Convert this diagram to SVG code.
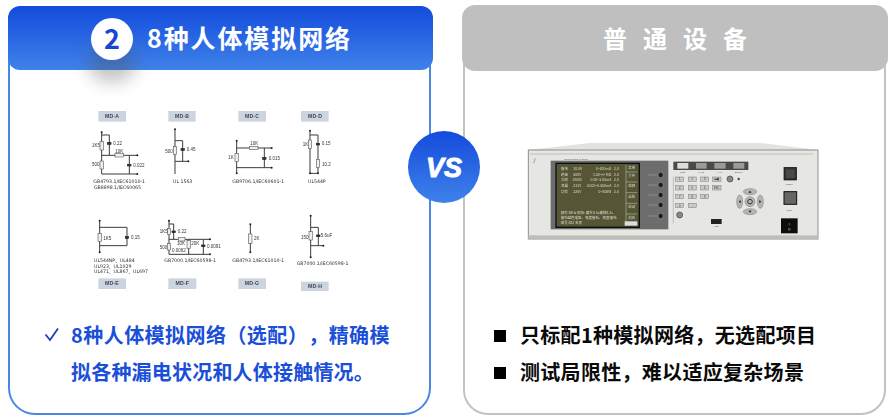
<svg xmlns="http://www.w3.org/2000/svg" width="894" height="420" viewBox="0 0 894 420">
<style>
.cjk{font-family:"Noto Sans CJK SC","Liberation Sans",sans-serif;font-weight:700;text-spacing-trim:space-all}
.hd{font-size:25px;fill:#fff}
.blue{font-size:20px;fill:#1a4fd8}
.blk{font-size:20px;fill:#0a0a0a}
.tag{fill:#ccd5df}
.tagt{font:700 15.500px "Liberation Sans",sans-serif;fill:#3c4652;text-anchor:middle;letter-spacing:.5px}
.w{fill:none;stroke:#3a3a3a;stroke-width:3}
.r{fill:#f3efe4;stroke:#555;stroke-width:1.800}
.cp{fill:#333;stroke:#222;stroke-width:2}
.d{fill:#222}
.l{font:13.500px "Liberation Sans",sans-serif;fill:#333}
.g{font:14px "DejaVu Sans","Noto Sans CJK SC",sans-serif;fill:#333}
.k{fill:#c9c9c5;stroke:#777;stroke-width:1.400}
.kt{font:8px "Liberation Sans",sans-serif;fill:#333;text-anchor:middle}
.it{font:6.500px "Liberation Sans",sans-serif;fill:#666;text-anchor:middle}
.st{font:10.500px "Noto Sans CJK SC","Liberation Sans",sans-serif;fill:#ddddd2}
.sr{text-anchor:end}
</style>
<defs>
<linearGradient id="gb" x1="0" y1="0" x2="0" y2="1"><stop offset="0" stop-color="#134bdc"/><stop offset="1" stop-color="#3f82ea"/></linearGradient>
<filter id="soft" x="-5%" y="-5%" width="110%" height="110%"><feGaussianBlur stdDeviation="1"/></filter>
<filter id="shadow" x="-80%" y="-80%" width="260%" height="260%"><feGaussianBlur stdDeviation="9"/></filter>
</defs>
<rect width="894" height="420" fill="#fff"/>

<g id="panel-left">
<rect x="9" y="8" width="421" height="406" rx="26" fill="#fff" stroke="#4a86e8" stroke-width="2"/>
<rect x="8" y="6" width="425" height="64" rx="12" fill="url(#gb)"/>
<ellipse cx="112" cy="62" rx="24" ry="20" fill="#555" opacity=".36" filter="url(#shadow)"/>
<circle cx="112" cy="39" r="21" fill="#fff"/>
<text x="112" y="49" class="cjk" font-size="27" fill="#1a45cc" text-anchor="middle">2</text>
<text x="147" y="48" class="cjk hd" letter-spacing="1.900">8种人体模拟网络</text>
</g>

<g id="panel-right">
<rect x="464" y="8" width="421" height="406" rx="24" fill="#fff" stroke="#c2c2c2" stroke-width="2"/>
<rect x="462" y="5" width="426" height="66" rx="13" fill="#bfbfbf"/>
<text x="603" y="48" class="cjk" font-size="24" fill="#fff" letter-spacing="16">普通设备</text>
</g>

<g id="vs-badge">
<circle cx="444" cy="167" r="36" fill="url(#gb)"/>
<text x="444" y="177" font-family="Liberation Sans,sans-serif" font-weight="700" font-style="italic" font-size="27" fill="#fff" stroke="#fff" stroke-width=".9" text-anchor="middle">VS</text>
</g>

<g id="md-top-left" transform="translate(80 100) scale(.33333)" filter="url(#soft)">
<g id="md-a">
<rect class="tag" x="55" y="33" width="83" height="32"/><text class="tagt" x="96" y="54">MD-A</text>
<path class="w" d="M65 95V222H172M65 105H88V166M65 166H172M148 166V222"/>
<rect class="r" x="60" y="125" width="10" height="25"/><rect class="r" x="60" y="183" width="10" height="24"/><rect class="r" x="105" y="161" width="26" height="10"/>
<rect class="cp" x="83" y="128" width="10" height="5"/><rect class="cp" x="143" y="193" width="10" height="5"/>
<circle class="d" cx="65" cy="97" r="3"/><circle class="d" cx="172" cy="166" r="3"/><circle class="d" cx="172" cy="222" r="3"/>
<text class="l" x="36" y="141">1K5</text><text class="l" x="100" y="134">0.22</text><text class="l" x="106" y="158">10K</text><text class="l" x="36" y="198">500</text><text class="l" x="160" y="200">0.022</text>
<text class="g" x="40" y="250">GB4793.1/IEC61010-1</text><text class="g" x="42" y="267">GB8898.1/IEC60065</text>
</g>
<g id="md-b">
<rect class="tag" x="265" y="33" width="82" height="32"/><text class="tagt" x="306" y="54">MD-B</text>
<path class="w" d="M285 88V222M285 122H308V184M285 184H325"/>
<rect class="r" x="280" y="140" width="10" height="23"/><rect class="cp" x="303" y="146" width="10" height="5"/>
<circle class="d" cx="285" cy="88" r="3"/><circle class="d" cx="325" cy="184" r="3"/>
<text class="l" x="256" y="159">500</text><text class="l" x="320" y="153">0.45</text><text class="g" x="279" y="248">UL 1563</text>
</g>
</g>

<g id="md-top-right" transform="translate(220 100) scale(.33333)" filter="url(#soft)">
<g id="md-c">
<rect class="tag" x="55" y="33" width="83" height="32"/><text class="tagt" x="96" y="54">MD-C</text>
<path class="w" d="M50 122V220M50 144H155M133 144V203M50 203H155"/>
<rect class="r" x="45" y="160" width="10" height="25"/><rect class="r" x="88" y="139" width="26" height="10"/><rect class="cp" x="128" y="173" width="10" height="5"/>
<circle class="d" cx="50" cy="122" r="3"/><circle class="d" cx="50" cy="220" r="3"/><circle class="d" cx="155" cy="144" r="3"/><circle class="d" cx="155" cy="203" r="3"/>
<text class="l" x="25" y="177">1K</text><text class="l" x="91" y="135">10K</text><text class="l" x="146" y="179">0.015</text><text class="g" x="37" y="249">GB9706.1/IEC60601-1</text>
</g>
<g id="md-d">
<rect class="tag" x="243" y="33" width="83" height="32"/><text class="tagt" x="285" y="54">MD-D</text>
<path class="w" d="M270 92V220H294V105H270"/>
<rect class="r" x="265" y="120" width="10" height="25"/><rect class="r" x="289" y="178" width="10" height="25"/><rect class="cp" x="289" y="130" width="10" height="5"/>
<circle class="d" cx="270" cy="92" r="3"/><circle class="d" cx="270" cy="220" r="3"/><circle class="d" cx="294" cy="220" r="3"/>
<text class="l" x="248" y="139">1K</text><text class="l" x="305" y="136">0.15</text><text class="l" x="306" y="197">10.2</text><text class="g" x="264" y="248">UL544P</text>
</g>
</g>

<g id="md-bottom-left" transform="translate(80 200) scale(.33333)" filter="url(#soft)">
<g id="md-e">
<rect class="tag" x="55" y="235" width="83" height="32"/><text class="tagt" x="96" y="256">MD-E</text>
<path class="w" d="M59 62V157M59 82H141V137H59"/>
<rect class="r" x="54" y="100" width="10" height="25"/><rect class="cp" x="136" y="110" width="10" height="5"/>
<circle class="d" cx="59" cy="62" r="3"/><circle class="d" cx="59" cy="157" r="3"/>
<text class="l" x="70" y="119">1K5</text><text class="l" x="153" y="117">0.15</text>
<text class="g" x="42" y="185">UL544NP、UL484</text><text class="g" x="42" y="203">UL923、UL1029</text><text class="g" x="42" y="220" font-size="13">UL471、UL867、UL697</text>
</g>
<g id="md-f">
<rect class="tag" x="265" y="235" width="84" height="32"/><text class="tagt" x="307" y="256">MD-F</text>
<path class="w" d="M267 62V163H390M267 72H281V118M267 118H390M326 118V163M370 118V163"/>
<rect class="r" x="262" y="85" width="10" height="19"/><rect class="r" x="262" y="130" width="10" height="20"/><rect class="r" x="295" y="113" width="20" height="10"/><rect class="r" x="321" y="122" width="10" height="24"/>
<rect class="cp" x="276" y="93" width="10" height="5"/><rect class="cp" x="365" y="135" width="10" height="5"/>
<circle class="d" cx="267" cy="62" r="3"/><circle class="d" cx="390" cy="118" r="3"/><circle class="d" cx="390" cy="163" r="3"/>
<text class="l" x="239" y="99">1K5</text><text class="l" x="293" y="100">0.22</text><text class="l" x="291" y="135">10K</text><text class="l" x="239" y="147">500</text><text class="l" x="334" y="136">20K</text><text class="l" x="276" y="155">0.0062</text><text class="l" x="381" y="143">0.0091</text>
<text class="g" x="253" y="185">GB7000.1/IEC60598-1</text>
</g>
</g>

<g id="md-bottom-right" transform="translate(220 200) scale(.33333)" filter="url(#soft)">
<g id="md-g">
<rect class="tag" x="55" y="235" width="83" height="32"/><text class="tagt" x="96" y="256">MD-G</text>
<path class="w" d="M91 73V157"/>
<rect class="r" x="86" y="102" width="10" height="28"/>
<circle class="d" cx="91" cy="73" r="3"/><circle class="d" cx="91" cy="157" r="3"/>
<text class="l" x="102" y="121">2K</text><text class="g" x="37" y="187">GB4793.1/IEC61010-1</text>
</g>
<g id="md-h">
<rect class="tag" x="243" y="245" width="83" height="28"/><text class="tagt" x="285" y="264">MD-H</text>
<path class="w" d="M272 47V172M272 82H295V137H310M272 137H295"/>
<rect class="r" x="267" y="95" width="10" height="25"/><rect class="cp" x="290" y="105" width="10" height="5"/>
<circle class="d" cx="272" cy="47" r="3"/><circle class="d" cx="272" cy="172" r="3"/><circle class="d" cx="310" cy="137" r="3"/>
<text class="l" x="243" y="116">150</text><text class="l" x="302" y="111">5.6uF</text><text class="g" x="230" y="196">GB7000.1/IEC60598-1</text>
</g>
</g>

<g id="instrument" filter="url(#soft)" transform="translate(520 140) scale(.33333)">
<path d="M25 30L210 9H720L894 30Z" fill="#e2e2e0"/>
<rect x="25" y="30" width="869" height="267" fill="#e6e6e3" stroke="#8f8f8f" stroke-width="3"/>
<rect x="25" y="286" width="869" height="10" fill="#bdbdb9"/>
<path d="M30 42H880" stroke="#aaa" stroke-width="2"/>
<path d="M46 55L41 70" stroke="#777" stroke-width="2"/>
<text class="it" x="168" y="59">INSTRUMENT  SYSTEM</text>
<rect x="92" y="62" width="353" height="206" fill="#6d6d6d"/>
<rect x="108" y="70" width="250" height="192" fill="#565636" stroke="#111" stroke-width="4"/>
<g id="screen">
<text class="st" x="123" y="90">接地</text><text class="st" x="160" y="90">10.0A</text><text class="st sr" x="274" y="90">0~200mΩ</text><text class="st" x="282" y="90">2.0</text>
<text class="st" x="123" y="107">绝缘</text><text class="st" x="160" y="107">500V</text><text class="st sr" x="274" y="107">1.00~∞ MΩ</text><text class="st" x="282" y="107">2.0</text>
<text class="st" x="123" y="124">交耐</text><text class="st" x="157" y="124">1800V</text><text class="st sr" x="274" y="124">0.00~3.00mA</text><text class="st" x="282" y="124">2.0</text>
<text class="st" x="123" y="141">泄漏</text><text class="st" x="160" y="141">233V</text><text class="st sr" x="274" y="141">0.000~0.500mA</text><text class="st" x="282" y="141">2.0</text>
<text class="st" x="123" y="158">功率</text><text class="st" x="160" y="158">220V</text><text class="st sr" x="274" y="158">0~500W</text><text class="st" x="282" y="158">2.0</text>
<text class="st" x="122" y="221">频率 50Hz 耐压: 缓升0.5s缓降0.2s</text>
<text class="st" x="122" y="236">接地蓝色电阻、亮度接低、亮度接地</text>
<text class="st" x="122" y="252">编号 002 名称</text>
<path d="M318 74V258M318 96H352M318 126H352M318 158H352M318 190H352M318 222H352" stroke="#ccc" stroke-width="1.500" fill="none"/>
<text class="st" x="325" y="88">菜单</text><text class="st" x="325" y="112">文件</text><text class="st" x="325" y="141">编辑</text><text class="st" x="325" y="173">自检</text><text class="st" x="325" y="204">启动</text><text class="st" x="325" y="236">消名</text>
<rect x="314" y="244" width="38" height="13" fill="#ddd"/>
</g>
<g fill="#1c1c1c" stroke="#999" stroke-width="2">
<circle cx="422" cy="105" r="8"/><circle cx="422" cy="135" r="8"/><circle cx="422" cy="165" r="8"/><circle cx="422" cy="195" r="8"/><circle cx="422" cy="228" r="8"/>
</g>
<path d="M385 105H412M385 135H412M385 165H412M385 195H412M385 228H412" stroke="#999" stroke-width="2"/>
<g transform="translate(450 0)">
<rect x="10" y="65" width="225" height="25" fill="#4a4a4a"/>
<rect x="22" y="69" width="33" height="17" fill="#ddd"/><rect x="78" y="69" width="32" height="17" fill="#9a9a9a"/><rect x="133" y="69" width="34" height="17" fill="#9a9a9a"/><rect x="190" y="69" width="33" height="17" fill="#9a9a9a"/>
<text class="it" x="38" y="100">TEST</text><text class="it" x="94" y="100">PASS</text><text class="it" x="150" y="100">FAIL</text><text class="it" x="206" y="100">ERROR</text>
<path d="M10 110V250" stroke="#aaa" stroke-width="2"/>
<rect class="k" x="17" y="111" width="24" height="13"/><rect class="k" x="55" y="111" width="24" height="13"/><rect class="k" x="92" y="111" width="24" height="13"/><rect class="k" x="127" y="111" width="26" height="13"/>
<rect class="k" x="17" y="137" width="24" height="13"/><rect class="k" x="55" y="137" width="24" height="13"/><rect class="k" x="92" y="137" width="24" height="13"/><rect class="k" x="127" y="137" width="26" height="13"/>
<rect class="k" x="17" y="163" width="24" height="13"/><rect class="k" x="55" y="163" width="24" height="13"/><rect class="k" x="92" y="163" width="24" height="13"/>
<rect class="k" x="17" y="190" width="24" height="13"/><rect class="k" x="55" y="190" width="24" height="13"/>
<text class="kt" x="29" y="121">1</text><text class="kt" x="67" y="121">2</text><text class="kt" x="104" y="121">3</text>
<text class="kt" x="29" y="147">4</text><text class="kt" x="67" y="147">5</text><text class="kt" x="104" y="147">6</text><text class="kt" x="140" y="147">ESC</text>
<text class="kt" x="29" y="173">7</text><text class="kt" x="67" y="173">8</text><text class="kt" x="104" y="173">9</text>
<text class="kt" x="29" y="200">0</text><text class="kt" x="67" y="200">.</text>
<circle cx="180" cy="117" r="9" fill="#888" stroke="#444" stroke-width="2"/><circle cx="206" cy="117" r="3.500" fill="#444"/><circle cx="29" cy="225" r="9" fill="#888" stroke="#444" stroke-width="2"/>
<path d="M134 114V121M134 117.500L146 114V121Z" fill="#333" stroke="#333" stroke-width="1"/>
<rect x="123" y="237" width="32" height="15" fill="#222"/><text class="it" x="139" y="262">USB</text>
<g fill="#b5b5b1" stroke="#777" stroke-width="1.500">
<ellipse cx="240" cy="155" rx="20" ry="9"/><ellipse cx="240" cy="215" rx="20" ry="9"/><ellipse cx="209" cy="185" rx="9" ry="20"/><ellipse cx="271" cy="185" rx="9" ry="20"/>
<circle cx="240" cy="185" r="15"/>
</g>
<circle cx="240" cy="185" r="7" fill="none" stroke="#333" stroke-width="3"/>
<path d="M235 158L240 152L245 158ZM235 212L240 218L245 212ZM212 180L206 185L212 190ZM268 180L274 185L268 190Z" fill="#222"/>
<rect x="342" y="82" width="38" height="38" fill="#333" stroke="#111" stroke-width="2"/><rect x="348" y="88" width="26" height="26" fill="#4a4a4a"/><text class="it" x="358" y="136">RESET</text>
<rect x="342" y="155" width="38" height="38" fill="#666" stroke="#111" stroke-width="3"/><text class="it" x="358" y="212">TEST</text>
<rect x="333" y="235" width="50" height="45" fill="#111"/><path d="M358 249V256" stroke="#bbb" stroke-width="1.500"/><circle cx="358" cy="268" r="3" fill="none" stroke="#bbb" stroke-width="1.500"/>
</g>
</g>

<g id="bullets-left">
<path d="M45.500 334.500L50 340L58 328.500" fill="none" stroke="#1a3fc0" stroke-width="1.800"/>
<text class="cjk blue" x="71" y="343" letter-spacing=".45">8种人体模拟网络（选配），精确模</text>
<text class="cjk blue" x="71" y="380" letter-spacing=".2">拟各种漏电状况和人体接触情况。</text>
</g>
<g id="bullets-right">
<rect x="494" y="330" width="12" height="12" fill="#000"/>
<text class="cjk blk" x="520" y="343" letter-spacing=".3">只标配1种模拟网络，无选配项目</text>
<rect x="494" y="367" width="12" height="12" fill="#000"/>
<text class="cjk blk" x="520" y="380" letter-spacing=".3">测试局限性，难以适应复杂场景</text>
</g>
</svg>
